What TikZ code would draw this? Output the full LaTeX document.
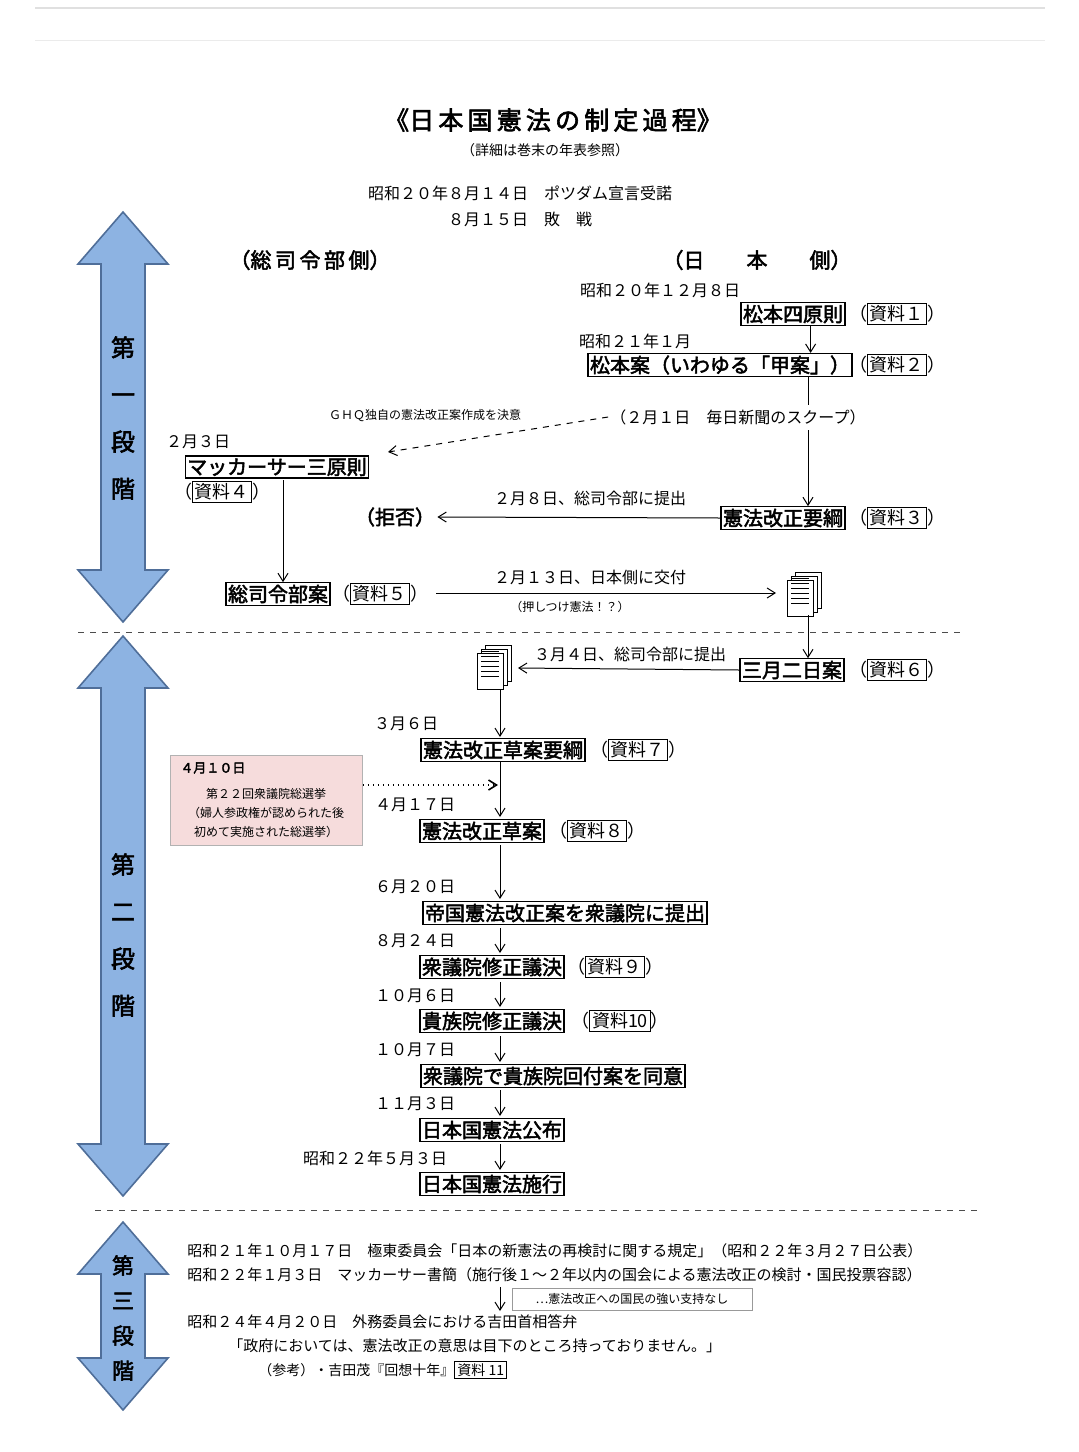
\documentclass[tikz,border=0pt]{standalone}
\usepackage{fontspec}
\setmainfont{Noto Sans CJK JP}[AutoFakeBold=2.5]
\usetikzlibrary{arrows.meta, positioning, calc}
\definecolor{stageblue}{HTML}{8DB3E2}
\definecolor{stageline}{HTML}{4F6E99}
\definecolor{notepink}{HTML}{F6DCDC}
\setlength{\fboxsep}{1pt}
\setlength{\fboxrule}{0.5pt}
\newcommand{\srbox}[1]{（\fbox{資料#1}）}
% large up/down arrow of a stage
\newcommand{\stagearrow}[3]{%
  \draw[stageline, fill=stageblue, line width=0.8pt]
    (#1,#2) -- ++(45,52) -- ++(-23,0) -- (#1+22,#3-52) -- ++(23,0) -- (#1,#3)
    -- ++(-45,-52) -- ++(23,0) -- (#1-22,#2+52) -- ++(-23,0) -- cycle;}
% stacked papers
\newcommand{\docicon}[2]{%
  \foreach \d in {8,4,0} {
    \draw[fill=white, line width=0.4pt] ($(#1)+(\d-8,-\d+8)$) rectangle ++(26,36);
  }
  \foreach \l in {6,11,...,31} {
    \draw[line width=0.3pt] ($(#1)+(-4,\l)$) -- ++(18,0);
  }
  \coordinate (#2) at ($(#1)+(5,18)$);}
\begin{document}
\begin{tikzpicture}[x=0.5pt, y=-0.5pt,
    txt/.style={inner sep=1pt, font=\fontsize{8pt}{9pt}\selectfont},
    small/.style={inner sep=1pt, font=\fontsize{6pt}{7pt}\selectfont},
    stagetxt/.style={inner sep=1pt, align=left, font=\fontsize{7.5pt}{9pt}\selectfont},
    event/.style={draw, inner sep=1pt, line width=0.6pt, font=\bfseries\fontsize{10pt}{11pt}\selectfont},
    src/.style={inner sep=0pt, font=\fontsize{9pt}{10pt}\selectfont},
    side/.style={inner sep=1pt, font=\bfseries\fontsize{10pt}{11pt}\selectfont},
    stagelbl/.style={align=center, font=\bfseries\fontsize{12pt}{23.5pt}\selectfont},
    arrow/.style={-{Straight Barb[length=4pt,width=5pt]}, line width=0.5pt}
]
\useasboundingbox (0,0) rectangle (1079,1452);
\draw[black!12, line width=1pt] (35,8) -- (1045,8);
\draw[black!8] (35,40) -- (1045,40);

% stage arrows
\stagearrow{123}{212}{622}
\stagearrow{123}{636}{1196}
\stagearrow{123}{1222}{1410}
\node[stagelbl] at (123,418) {第\\一\\段\\階};
\node[stagelbl] at (123,935) {第\\二\\段\\階};
\node[stagelbl, font=\bfseries\fontsize{11pt}{17.5pt}\selectfont] at (123,1318) {第\\三\\段\\階};
\draw[dashed, black!70] (78,632) -- (965,632);
\draw[dashed, black!70] (95,1210) -- (980,1210);

% heading
\node[font=\bfseries\fontsize{12.5pt}{14pt}\selectfont] (title) at (553,120) {《日\,本\,国\,憲\,法\,の\,制\,定\,過\,程》};
\node[small, font=\fontsize{7pt}{8pt}\selectfont] (detail) at (545,150) {（詳細は巻末の年表参照）};
\node[txt] (potsdam) at (520,193) {昭和２０年８月１４日　ポツダム宣言受諾};
\node[txt] (haisen) at (520,219) {８月１５日　敗　戦};
\node[side, font=\bfseries\fontsize{10.5pt}{11pt}\selectfont] (ghqside) at (310,260) {（総\,司\,令\,部\,側）};
\node[side, font=\bfseries\fontsize{10.5pt}{11pt}\selectfont] (jpside) at (757,260) {（日　　本　　側）};

% Japan side, stage 1
\node[txt] (d1) at (660,290) {昭和２０年１２月８日};
\node[event] (gensoku) at (793,314) {松本四原則};
\node[src] at (897,314) {\srbox{１}};
\node[txt] (d2) at (635,341) {昭和２１年１月};
\node[event] (matsumoto) at (720,365) {松本案（いわゆる「甲案」）};
\node[src] at (897,365) {\srbox{２}};
\node[txt] (scoop) at (738,417) {（２月１日　毎日新聞のスクープ）};
\node[small] (ghqdecide) at (425,416) {ＧＨＱ独自の憲法改正案作成を決意};
\node[event] (yoko) at (783,518) {憲法改正要綱};
\node[src] at (897,518) {\srbox{３}};
\node[txt] (d3) at (590,498) {２月８日、総司令部に提出};
\node[side] (kyohi) at (395,517) {（拒否）};
\draw[arrow] (gensoku.south -| matsumoto.north east) ++(-42,0) coordinate (a1) -- (a1 |- matsumoto.north);
\draw (808,377) -- (808,405);
\draw[arrow] (808,430) -- (yoko.north -| 808,0);
\draw[arrow, dashed] (scoop.west) -- (388,452);
\draw[arrow] (yoko.west) -- (kyohi.east);

% GHQ side, stage 1
\node[txt] (d4) at (198,442) {２月３日};
\node[event] (mac3) at (277,467) {マッカーサー三原則};
\node[src] at (222,492) {（\fbox{資料４}）};
\node[event] (ghqan) at (278,594) {総司令部案};
\node[src] at (380,594) {\srbox{５}};
\draw[arrow] (283,480) -- (ghqan.north -| 283,0);
\node[txt] (d5) at (590,577) {２月１３日、日本側に交付};
\node[small] (oshitsuke) at (570,607) {（押しつけ憲法！？）};
\docicon{795,572}{doc1}
\draw[arrow] (436,593) -- (776,593);

% stage 2
\node[event] (sangatsu) at (792,670) {三月二日案};
\node[src] at (897,670) {\srbox{６}};
\draw[arrow] (808,615) -- (sangatsu.north -| 808,0);
\docicon{485,645}{doc2}
\node[txt] (d6) at (630,654) {３月４日、総司令部に提出};
\draw[arrow] (sangatsu.west) -- (518,668);

\node[txt] (d7) at (406,724) {３月６日};
\node[event] (soanyoko) at (503,750) {憲法改正草案要綱};
\node[src] at (638,750) {\srbox{７}};
\draw[arrow] (500,690) -- (500,737);

\node[draw=black!30, fill=notepink, minimum width=96pt, minimum height=45pt, inner sep=0pt] (note) at (266.5,800) {};
\node[small, anchor=north west, align=left, font=\bfseries\fontsize{6.5pt}{8pt}\selectfont] at (178,760) {４月１０日};
\node[small, align=center, font=\fontsize{6pt}{9.5pt}\selectfont] at (266,813) {第２２回衆議院総選挙\\（婦人参政権が認められた後\\初めて実施された総選挙）};
\draw[arrow, dotted, line width=0.8pt] (note.east |- 0,785) -- (498,785);

\node[txt] (d8) at (415,805) {４月１７日};
\node[event] (soan) at (482,831) {憲法改正草案};
\node[src] at (597,831) {\srbox{８}};
\draw[arrow] (500,762) -- (500,817);

\node[txt] (d9) at (415,887) {６月２０日};
\node[event] (teikoku) at (565,913) {帝国憲法改正案を衆議院に提出};
\draw[arrow] (500,845) -- (500,899);

\node[txt] (d10) at (415,941) {８月２４日};
\node[event] (shugi) at (492,967) {衆議院修正議決};
\node[src] at (615,967) {\srbox{９}};
\draw[arrow] (500,928) -- (500,953);

\node[txt] (d11) at (415,996) {１０月６日};
\node[event] (kizoku) at (492,1021) {貴族院修正議決};
\node[src] at (620,1021) {\srbox{10}};
\draw[arrow] (500,982) -- (500,1007);

\node[txt] (d12) at (415,1050) {１０月７日};
\node[event] (doi) at (553,1076) {衆議院で貴族院回付案を同意};
\draw[arrow] (500,1036) -- (500,1062);

\node[txt] (d13) at (415,1104) {１１月３日};
\node[event] (kofu) at (492,1130) {日本国憲法公布};
\draw[arrow] (500,1090) -- (500,1116);

\node[txt] (d14) at (375,1158) {昭和２２年５月３日};
\node[event] (shiko) at (492,1184) {日本国憲法施行};
\draw[arrow] (500,1144) -- (500,1170);

% stage 3
\node[stagetxt, anchor=west] (s1) at (185,1251) {昭和２１年１０月１７日　極東委員会「日本の新憲法の再検討に関する規定」（昭和２２年３月２７日公表）};
\node[stagetxt, anchor=west] (s2) at (185,1275) {昭和２２年１月３日　マッカーサー書簡（施行後１～２年以内の国会による憲法改正の検討・国民投票容認）};
\node[draw=black!40, small, minimum width=120pt, minimum height=11pt] (shiji) at (632,1299) {…憲法改正への国民の強い支持なし};
\node[stagetxt, anchor=west] (s3) at (185,1322) {昭和２４年４月２０日　外務委員会における吉田首相答弁};
\draw[arrow] (500,1287) -- (500,1311);
\node[stagetxt, anchor=west] (s4) at (226,1346) {「政府においては、憲法改正の意思は目下のところ持っておりません。」};
\node[stagetxt, anchor=west, font=\fontsize{7pt}{8pt}\selectfont] (s5) at (256,1370) {（参考）・吉田茂『回想十年』\fbox{資料 11}};
\end{tikzpicture}
\end{document}
